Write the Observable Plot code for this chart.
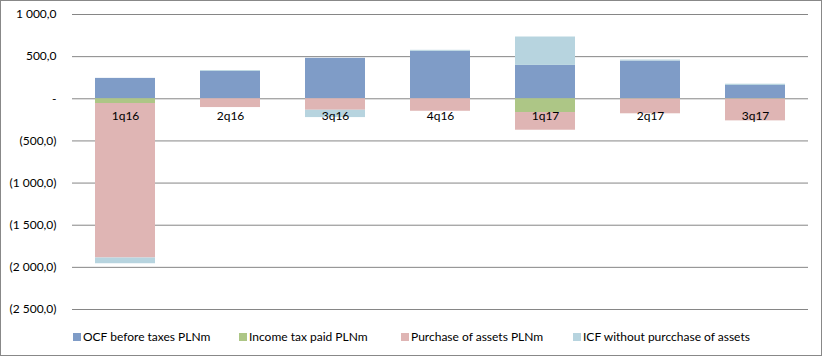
<!DOCTYPE html>
<html>
<head>
<meta charset="utf-8">
<script src="https://cdn.jsdelivr.net/npm/d3@7"></script>
<script src="https://cdn.jsdelivr.net/npm/@observablehq/plot@0.6"></script>
<style>
  html, body { margin: 0; padding: 0; background: #fff; }
  #wrap { position: relative; width: 824px; height: 358px; font-family: Lato, "Liberation Sans", sans-serif; }
  #frame { position: absolute; left: 0; top: 0; width: 820px; height: 354px; border: 1px solid #888; box-sizing: content-box; pointer-events: none; }
  #chart { position: absolute; left: 0; top: 0; }
  .leg { position: absolute; top: 329px; font-size: 12px; color: #000; white-space: nowrap; line-height: 16px; }
  .leg i { display: inline-block; width: 8px; height: 8px; margin-right: 2px; vertical-align: -0px; }
</style>
</head>
<body>
<div id="wrap">
  <div id="chart"></div>
  <div id="legend"></div>
  <div id="frame"></div>
</div>
<script>
const categories = ["1q16", "2q16", "3q16", "4q16", "1q17", "2q17", "3q17"];
const seriesNames = ["OCF before taxes PLNm", "Income tax paid PLNm", "Purchase of assets PLNm", "ICF without purcchase of assets"];
const ocf      = [242, 325, 480, 563, 396, 448, 158];
const tax      = [-56, 0, 0, 0, -163, -3, -4];
const purchase = [-1833, -104, -136, -148, -210, -175, -258];
const icf      = [-68, 10, -87, 12, 337, 12, 15];
const yTicks   = [1000, 500, 0, -500, -1000, -1500, -2000, -2500];
const colors   = ["#7F9CC7", "#ADC686", "#DFB5B4", "#B7D4DF"];
const legendX  = [73, 239, 401, 573];

const seriesValues = [ocf, tax, purchase, icf];
const rows = [];
seriesNames.forEach((s, si) => {
  categories.forEach((c, ci) => rows.push({cat: c, series: s, value: seriesValues[si][ci]}));
});

const loc = d3.formatLocale({decimal: ",", thousands: "\u00a0", grouping: [3]});
const f = loc.format(",.1f");
const fmt = d => d === 0 ? "-" : (d < 0 ? "(" + f(-d) + ")" : f(d));

const chart = Plot.plot({
  width: 824,
  height: 320,
  marginLeft: 72,
  marginRight: 16,
  marginTop: 14,
  marginBottom: 11,
  style: {fontFamily: "Lato, 'Liberation Sans', sans-serif", fontSize: "12px", color: "#000", background: "transparent"},
  x: {domain: categories, paddingInner: 0.43, paddingOuter: 0.215, axis: null},
  y: {domain: [-2500, 1000], ticks: yTicks, tickFormat: fmt, tickSize: 0, tickPadding: 16, label: null},
  color: {domain: seriesNames, range: colors},
  marks: [
    Plot.ruleY(yTicks, {stroke: "#868686", strokeWidth: 1}),
    Plot.barY(rows, Plot.stackY({order: seriesNames, x: "cat", y: "value", fill: "series"})),
    Plot.text(categories, {x: d => d, y: () => 0, dy: 17, fill: "#000", fontSize: 12})
  ]
});
document.getElementById("chart").appendChild(chart);

const leg = document.getElementById("legend");
seriesNames.forEach((s, i) => {
  const el = document.createElement("div");
  el.className = "leg";
  el.style.left = legendX[i] + "px";
  el.innerHTML = `<i style="background:${colors[i]}"></i>${s}`;
  leg.appendChild(el);
});
</script>
</body>
</html>
